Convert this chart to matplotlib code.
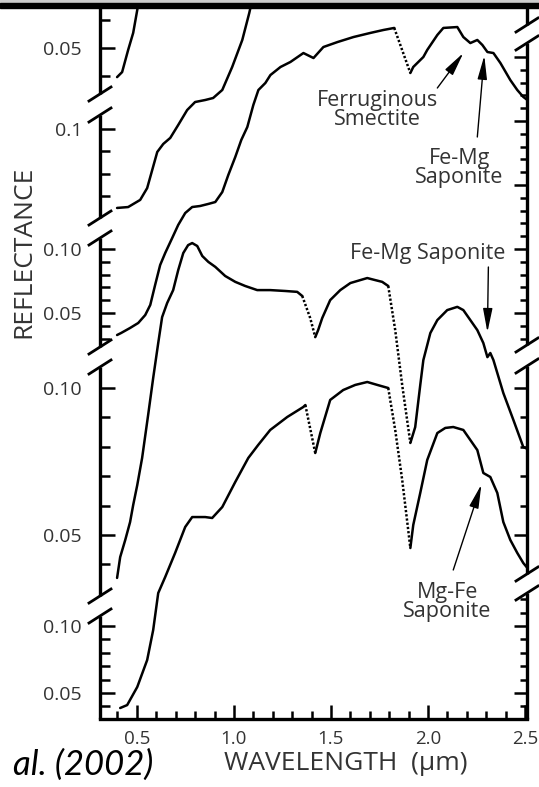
import numpy as np
import matplotlib.pyplot as plt
from matplotlib.patches import Rectangle

plt.rcParams['font.family'] = ['Open Sans', 'DejaVu Sans']

# ---- spectra: wavelength (um) and reflectance ----
# spectrum cut off at the top left
wl_a = [0.398, 0.424, 0.455, 0.481, 0.502, 0.517]
refl_a = [0.0396, 0.0414, 0.0493, 0.0554, 0.0636, 0.0707]

# second spectrum, also running off the top
wl_b = [0.398, 0.455, 0.517, 0.553, 0.579, 0.605, 0.636, 0.672, 0.713, 0.759,
        0.800, 0.852, 0.893, 0.940, 0.991, 1.043, 1.079, 1.094, 1.105]
refl_b = [0.0646, 0.0650, 0.0682, 0.0735, 0.0816, 0.0897, 0.0933, 0.0960, 0.1018, 0.1085,
          0.1121, 0.1130, 0.1139, 0.1175, 0.1278, 0.1399, 0.1520, 0.1578, 0.1614]

# ferruginous smectite / Fe-Mg saponite mixture (top right)
wl_ferr = [0.398, 0.419, 0.465, 0.507, 0.543, 0.569, 0.594, 0.620, 0.646, 0.682,
           0.713, 0.749, 0.785, 0.826, 0.868, 0.904, 0.940, 0.971, 1.007, 1.038,
           1.069, 1.100, 1.126, 1.162, 1.188, 1.240, 1.291, 1.358, 1.410, 1.461,
           1.534, 1.616, 1.703, 1.770, 1.826, 1.909, 1.924, 1.976, 1.996, 2.048,
           2.079, 2.151, 2.182, 2.218, 2.254, 2.280, 2.306, 2.337, 2.373, 2.424,
           2.460, 2.491, 2.512]
refl_ferr = [0.0328, 0.0344, 0.0383, 0.0422, 0.0484, 0.0563, 0.0719, 0.0875, 0.0969, 0.1086,
             0.1188, 0.1281, 0.1328, 0.1336, 0.1352, 0.1367, 0.1445, 0.1578, 0.1719, 0.1852,
             0.1953, 0.2125, 0.2242, 0.2297, 0.2359, 0.2422, 0.2461, 0.2531, 0.2492, 0.2578,
             0.2617, 0.2656, 0.2688, 0.2711, 0.2727, 0.2375, 0.2422, 0.2500, 0.2555, 0.2672,
             0.2727, 0.2734, 0.2656, 0.2609, 0.2633, 0.2594, 0.2539, 0.2531, 0.2453, 0.2320,
             0.2242, 0.2188, 0.2164]

# Fe-Mg saponite
wl_femg = [0.398, 0.414, 0.440, 0.465, 0.481, 0.502, 0.527, 0.558, 0.584, 0.610,
           0.630, 0.656, 0.687, 0.713, 0.739, 0.764, 0.785, 0.811, 0.837, 0.868,
           0.904, 0.955, 1.007, 1.058, 1.120, 1.187, 1.264, 1.326, 1.352, 1.393,
           1.419, 1.434, 1.455, 1.496, 1.548, 1.600, 1.651, 1.687, 1.728, 1.764,
           1.795, 1.831, 1.867, 1.909, 1.934, 1.960, 1.976, 2.012, 2.048, 2.099,
           2.151, 2.182, 2.218, 2.254, 2.285, 2.306, 2.321, 2.337, 2.388, 2.440,
           2.491, 2.512]
refl_femg = [0.0354, 0.0425, 0.0483, 0.0544, 0.0602, 0.0670, 0.0762, 0.0908, 0.1034, 0.1153,
             0.1241, 0.1289, 0.1333, 0.1401, 0.1459, 0.1486, 0.1493, 0.1483, 0.1449, 0.1429,
             0.1412, 0.1381, 0.1361, 0.1347, 0.1333, 0.1333, 0.1330, 0.1327, 0.1313, 0.1238,
             0.1173, 0.1197, 0.1238, 0.1299, 0.1333, 0.1357, 0.1367, 0.1374, 0.1367, 0.1361,
             0.1347, 0.1197, 0.1010, 0.0813, 0.0867, 0.1010, 0.1095, 0.1187, 0.1231, 0.1265,
             0.1276, 0.1265, 0.1231, 0.1197, 0.1153, 0.1105, 0.1119, 0.1095, 0.0983, 0.0891,
             0.0799, 0.0793]

# Mg-Fe saponite
wl_mgfe = [0.414, 0.450, 0.502, 0.553, 0.584, 0.610, 0.646, 0.697, 0.749, 0.785,
           0.852, 0.888, 0.940, 1.007, 1.074, 1.125, 1.187, 1.275, 1.357, 1.368,
           1.419, 1.445, 1.496, 1.563, 1.625, 1.687, 1.739, 1.795, 1.831, 1.867,
           1.898, 1.909, 1.924, 1.960, 1.996, 2.048, 2.089, 2.130, 2.182, 2.254,
           2.285, 2.321, 2.357, 2.388, 2.424, 2.460, 2.491, 2.512]
refl_mgfe = [0.0388, 0.0410, 0.0545, 0.0746, 0.0970, 0.1246, 0.1366, 0.1545, 0.1739, 0.1813,
             0.1813, 0.1806, 0.1888, 0.2075, 0.2254, 0.2351, 0.2463, 0.2560, 0.2634, 0.2649,
             0.2291, 0.2440, 0.2687, 0.2761, 0.2799, 0.2821, 0.2799, 0.2776, 0.2463, 0.2090,
             0.1716, 0.1582, 0.1754, 0.1993, 0.2239, 0.2440, 0.2478, 0.2485, 0.2463, 0.2313,
             0.2142, 0.2112, 0.1993, 0.1776, 0.1642, 0.1545, 0.1470, 0.1433]

# stretches drawn dotted (atmospheric bands), um
dots_ferr = [(1.826, 1.909)]
dots_femg = [(1.352, 1.419), (1.795, 1.909)]
dots_mgfe = [(1.368, 1.419), (1.795, 1.909)]

# broken-axis panels: (reference reflectance, its height above x axis in px, px per unit)
P1 = (0.05, 671, 2800)
P2 = (0.10, 590, 2230)
P3 = (0.10, 470, 1280)
P4 = (0.10, 331, 2940)
P5 = (0.10, 93, 1340)


def to_h(refl, panel):
    r0, h0, k = panel
    return h0 + (np.asarray(refl, dtype=float) - r0) * k


fig = plt.figure(figsize=(5.39, 7.87), dpi=100)
ax = fig.add_axes([100 / 539, 68 / 787, 427 / 539, 719 / 787])
ax.set_xlim(0.31, 2.51)
ax.set_ylim(0, 719)
for s in ['left', 'right', 'top']:
    ax.spines[s].set_visible(False)
ax.spines['bottom'].set_linewidth(2.4)


def draw(wl, refl, panel, dots=()):
    wl = np.asarray(wl)
    h = to_h(refl, panel)
    dotted = [any(lo <= a and b <= hi for lo, hi in dots) for a, b in zip(wl[:-1], wl[1:])]
    start = 0
    for i in range(1, len(dotted) + 1):
        if i == len(dotted) or dotted[i] != dotted[start]:
            seg = slice(start, i + 1)
            if dotted[start]:
                ax.plot(wl[seg], h[seg], color='k', lw=1.8, ls=(0, (0.9, 0.8)))
            else:
                ax.plot(wl[seg], h[seg], color='k', lw=1.8,
                        solid_capstyle='round', solid_joinstyle='round')
            start = i
    return wl, h


draw(wl_a, refl_a, P1)
draw(wl_b, refl_b, P2)
xf, hf = draw(wl_ferr, refl_ferr, P3, dots_ferr)
xs, hs = draw(wl_femg, refl_femg, P4, dots_femg)
xm, hm = draw(wl_mgfe, refl_mgfe, P5, dots_mgfe)

# ---- broken spines ----
ytr = ax.get_yaxis_transform()
spine_kw = dict(color='k', lw=2.4, clip_on=False, transform=ytr, solid_capstyle='butt')
left_parts = [(625, 760), (501, 604), (372, 481), (123, 352), (0, 103)]
right_parts = [(694, 760), (374, 676), (145, 353), (0, 126)]
for lo, hi in left_parts:
    ax.plot([0, 0], [lo, hi], **spine_kw)
for lo, hi in right_parts:
    ax.plot([1, 1], [lo, hi], **spine_kw)
dx = 11 / 427
for x0, parts in [(0, left_parts), (1, right_parts)]:
    for lo, hi in parts:
        for c in (lo, hi):
            if 0 < c < 719:
                ax.plot([x0 - dx, x0 + dx], [c - 7, c + 7], color='k', lw=2.0,
                        clip_on=False, transform=ytr)

# ---- ticks ----
major_x = [0.5, 1.0, 1.5, 2.0, 2.5]
ax.set_xticks(major_x, ['0.5', '1.0', '1.5', '2.0', '2.5'])
ax.set_xticks([v / 10 for v in range(4, 25) if v % 5], minor=True)
ax.tick_params(axis='x', which='both', direction='in', width=1.8, labelsize=13.5,
               pad=8, labelcolor='#333333', top=False)
ax.tick_params(axis='x', which='major', length=10)
ax.tick_params(axis='x', which='minor', length=5.5)

left_major = [(P1, 0.05, '0.05'), (P2, 0.10, '0.1'), (P3, 0.10, '0.10'), (P3, 0.05, '0.05'),
              (P4, 0.10, '0.10'), (P4, 0.05, '0.05'), (P5, 0.10, '0.10'), (P5, 0.05, '0.05')]
left_minor = [(P1, [0.04, 0.06]), (P2, [0.07, 0.08, 0.09]),
              (P3, [0.03, 0.04, 0.06, 0.07, 0.08, 0.09]),
              (P4, [0.04, 0.06, 0.07, 0.08, 0.09]), (P5, [0.04, 0.06, 0.07, 0.08, 0.09])]
ax.set_yticks([float(to_h(v, p)) for p, v, _ in left_major], [t for _, _, t in left_major])
ax.set_yticks([float(h) for p, vals in left_minor for h in to_h(vals, p)], minor=True)
ax.tick_params(axis='y', which='both', direction='in', width=1.8, labelsize=14,
               pad=13, labelcolor='#333333', right=False)
ax.tick_params(axis='y', which='major', length=11)
ax.tick_params(axis='y', which='minor', length=7)

ax2 = ax.twinx()
ax2.set_ylim(0, 719)
for s in ax2.spines.values():
    s.set_visible(False)
right_vals = [(P3, [v / 100 for v in range(3, 26)]), (P4, [v / 100 for v in range(5, 11)]),
              (P5, [v / 100 for v in range(4, 13)])]
r_major, r_minor = [], []
for p, vals in right_vals:
    for v in vals:
        (r_major if round(v * 100) % 5 == 0 else r_minor).append(float(to_h(v, p)))
ax2.set_yticks(r_major, [''] * len(r_major))
ax2.set_yticks(r_minor, minor=True)
ax2.tick_params(axis='y', which='both', direction='in', width=1.8, left=False,
                right=True, labelright=False)
ax2.tick_params(axis='y', which='major', length=9.5)
ax2.tick_params(axis='y', which='minor', length=5)

# ---- labels ----
ax.set_ylabel('REFLECTANCE', fontsize=19, color='#333333')
ax.yaxis.set_label_coords(-0.178, (719 - 252) / 719)
ax.yaxis.label.set_va('center')
ax.set_xlabel('WAVELENGTH  (\u00b5m)', fontsize=19, color='#333333')
ax.xaxis.set_label_coords(0.576, -45 / 719)
ax.xaxis.label.set_va('center')

txt = dict(ha='center', va='center', fontsize=15.5, color='#333333', linespacing=0.92)
arr = dict(arrowstyle='-|>,head_length=0.8,head_width=0.16', mutation_scale=18,
           lw=1.0, color='k', shrinkA=0, shrinkB=0)

ax.text(1.739, 609, 'Ferruginous\nSmectite', **txt)
ax.annotate('', xy=(2.182, np.interp(2.182, xf, hf) - 16), xytext=(2.048, 631), arrowprops=arr)
ax.text(2.161, 551, 'Fe-Mg\nSaponite', **txt)
ax.annotate('', xy=(2.290, np.interp(2.290, xf, hf) - 8), xytext=(2.254, 582), arrowprops=arr)
ax.text(1.996, 465, 'Fe-Mg Saponite', **txt)
ax.annotate('', xy=(2.306, np.interp(2.306, xs, hs) + 25), xytext=(2.311, 452), arrowprops=arr)
ax.text(2.099, 117, 'Mg-Fe\nSaponite', **txt)
ax.annotate('', xy=(2.275, np.interp(2.275, xm, hm) - 19), xytext=(2.130, 149), arrowprops=arr)

fig.text(153 / 539, 1 - 765 / 787, 'al. (2002)', ha='right', va='center', fontsize=25,
         style='italic', color='k', family=['Lato', 'Open Sans', 'DejaVu Sans'])

# frame bar at the top of the slide
fig.add_artist(Rectangle((0, 1 - 2.7 / 787), 1, 2.7 / 787, transform=fig.transFigure,
                         color='#cccccc', zorder=10))
fig.add_artist(Rectangle((0, 1 - 8.3 / 787), 1, 5.6 / 787, transform=fig.transFigure,
                         color='black', zorder=10))

fig.savefig('out.png', dpi=100)
